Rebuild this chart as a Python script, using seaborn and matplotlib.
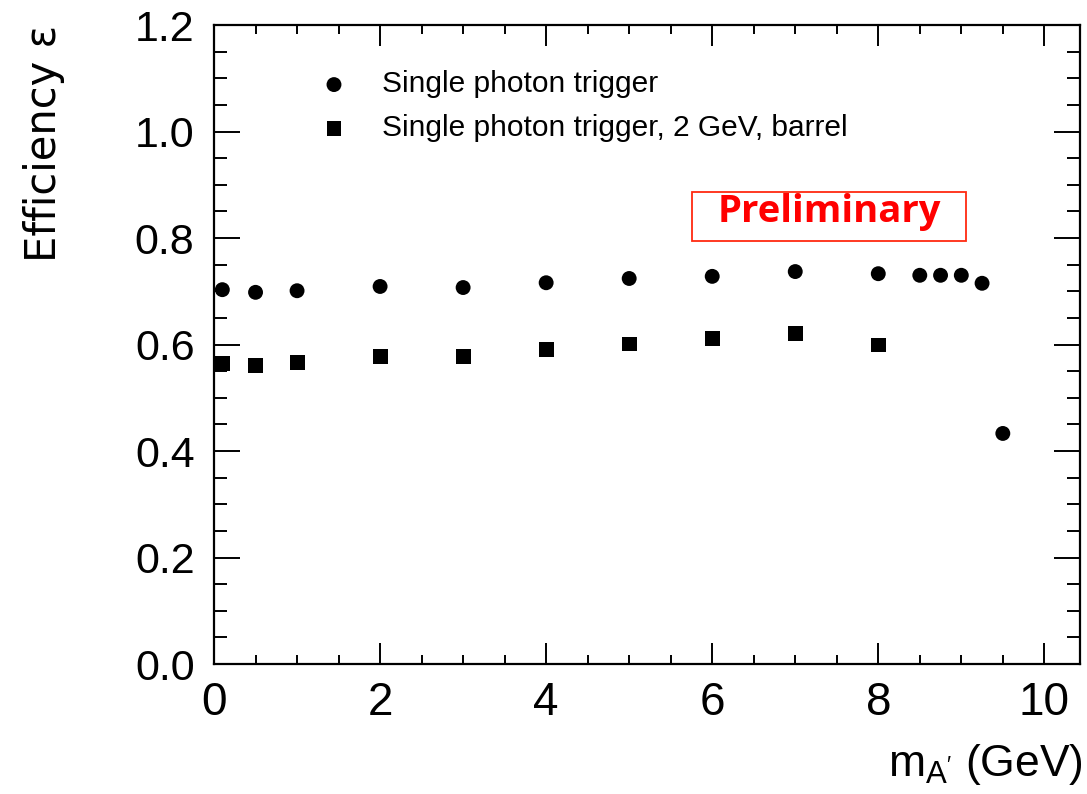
import matplotlib
matplotlib.use("Agg")
import matplotlib.pyplot as plt
from matplotlib.ticker import MultipleLocator, FormatStrFormatter
from matplotlib.patches import Rectangle
import seaborn as sns
import pandas as pd

# Trigger efficiency vs dark-photon mass
mass_all = [0.1, 0.5, 1.0, 2.0, 3.0, 4.0, 5.0, 6.0, 7.0, 8.0, 8.5, 8.75, 9.0, 9.25, 9.5]
eff_all = [0.703, 0.698, 0.701, 0.709, 0.707, 0.716, 0.724, 0.728, 0.737, 0.733, 0.730, 0.730, 0.730, 0.715, 0.433]

mass_barrel = [0.1, 0.5, 1.0, 2.0, 3.0, 4.0, 5.0, 6.0, 7.0, 8.0]
eff_barrel = [0.565, 0.561, 0.567, 0.577, 0.578, 0.590, 0.601, 0.611, 0.620, 0.599]

label_all = "Single photon trigger"
label_barrel = "Single photon trigger, 2 GeV, barrel"

df_all = pd.DataFrame({"mass": mass_all, "eff": eff_all})
df_barrel = pd.DataFrame({"mass": mass_barrel, "eff": eff_barrel})

sns.set_style("ticks")
plt.rcParams["font.family"] = ["Liberation Sans Narrow", "Liberation Sans", "DejaVu Sans"]
for key in ("text.color", "axes.labelcolor", "xtick.color", "ytick.color", "axes.edgecolor"):
    plt.rcParams[key] = "black"

fig = plt.figure(figsize=(10.87, 7.94), dpi=100)
ax = fig.add_axes([0.1969, 0.1637, 0.7967, 0.8048])

sns.scatterplot(data=df_all, x="mass", y="eff", marker="o", color="black",
                s=115, edgecolor="none", ax=ax, label=label_all, clip_on=False)
sns.scatterplot(data=df_barrel, x="mass", y="eff", marker="s", color="black",
                s=115, edgecolor="none", ax=ax, label=label_barrel, clip_on=False)

ax.set_xlim(0, 10.43)
ax.set_ylim(0, 1.2)
ax.xaxis.set_major_locator(MultipleLocator(2))
ax.xaxis.set_minor_locator(MultipleLocator(0.5))
ax.yaxis.set_major_locator(MultipleLocator(0.2))
ax.yaxis.set_minor_locator(MultipleLocator(0.05))
ax.yaxis.set_major_formatter(FormatStrFormatter("%.1f"))

ax.tick_params(which="both", direction="in", top=True, right=True, color="black", width=1.4)
ax.tick_params(axis="x", which="major", length=15, labelsize=33, pad=12)
ax.tick_params(axis="x", which="minor", length=6.5)
ax.tick_params(axis="y", which="major", length=19, labelsize=31, pad=14)
ax.tick_params(axis="y", which="minor", length=9.5)
for lab in ax.get_yticklabels():
    lab.set_family(["Liberation Sans", "DejaVu Sans"])
for sp in ax.spines.values():
    sp.set_linewidth(1.6)
    sp.set_color("black")

ax.set_xlabel("m$_{\\mathregular{A'}}$ (GeV)", fontsize=32, loc="right")
ax.xaxis.set_label_coords(1.003, -0.122)
ax.xaxis.label.set_va("top")
ax.set_ylabel("Efficiency ε", fontsize=30, loc="top",
              family=["DejaVu Sans"])
ax.yaxis.set_label_coords(-0.172, 1.0)

ax.legend(loc="upper left", bbox_to_anchor=(0.073, 0.971), frameon=False,
          handletextpad=0.6, labelspacing=0.52, markerscale=1.0,
          prop={"family": ["Liberation Sans", "DejaVu Sans"], "size": 21.5})

# Preliminary stamp
ax.add_patch(Rectangle((0.552, 0.662), 0.316, 0.0767, transform=ax.transAxes,
                       fill=False, edgecolor="#ff2a10", linewidth=1.3))
ax.text(0.710, 0.692, "Preliminary", transform=ax.transAxes, ha="center", va="baseline",
        color="#ff0000", fontsize=27.5, fontweight="bold", family=["Open Sans", "DejaVu Sans"])

fig.savefig("out.png", dpi=100)
